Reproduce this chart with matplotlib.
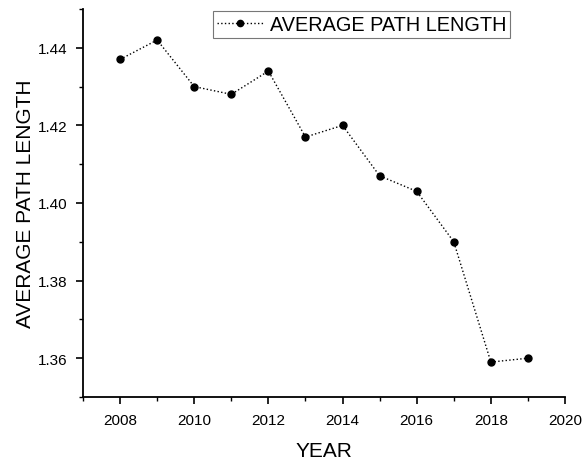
import matplotlib
matplotlib.use("Agg")
import matplotlib.pyplot as plt
from matplotlib.ticker import MultipleLocator

years = [2008, 2009, 2010, 2011, 2012, 2013, 2014, 2015, 2016, 2017, 2018, 2019]
apl = [1.437, 1.442, 1.430, 1.428, 1.434, 1.417, 1.420, 1.407, 1.403, 1.390, 1.359, 1.360]

plt.rcParams['font.family'] = ['Liberation Sans', 'DejaVu Sans']

fig = plt.figure(figsize=(5.82, 4.60), dpi=100)
ax = fig.add_axes([0.1426, 0.1348, 0.8282, 0.8435])

ax.plot(years, apl, linestyle=':', color='black', linewidth=1.0,
        marker='o', markersize=5, label='AVERAGE PATH LENGTH')

ax.set_xlim(2007, 2020)
ax.set_ylim(1.35, 1.45)
ax.xaxis.set_major_locator(MultipleLocator(2))
ax.xaxis.set_minor_locator(MultipleLocator(1))
ax.yaxis.set_major_locator(MultipleLocator(0.02))
ax.yaxis.set_minor_locator(MultipleLocator(0.01))
ax.yaxis.set_major_formatter(plt.FormatStrFormatter('%.2f'))

for s in ['top', 'right']:
    ax.spines[s].set_visible(False)
for s in ['left', 'bottom']:
    ax.spines[s].set_linewidth(1.3)

ax.tick_params(which='major', direction='out', length=5, width=1.2,
               labelsize=11, pad=6.5)
ax.tick_params(which='minor', direction='out', length=3, width=1.0)

ax.set_xlabel('YEAR', fontsize=15, labelpad=10)
ax.set_ylabel('AVERAGE PATH LENGTH', fontsize=15, labelpad=2)

leg = ax.legend(loc='upper right', bbox_to_anchor=(0.886, 0.995), fontsize=14.3,
                frameon=True, fancybox=False, handlelength=2.35,
                borderpad=0.2, handletextpad=0.3, borderaxespad=0,
                markerscale=0.9)
leg.get_frame().set_edgecolor('#555555')
leg.get_frame().set_linewidth(0.8)

fig.savefig('out.png', dpi=100)
